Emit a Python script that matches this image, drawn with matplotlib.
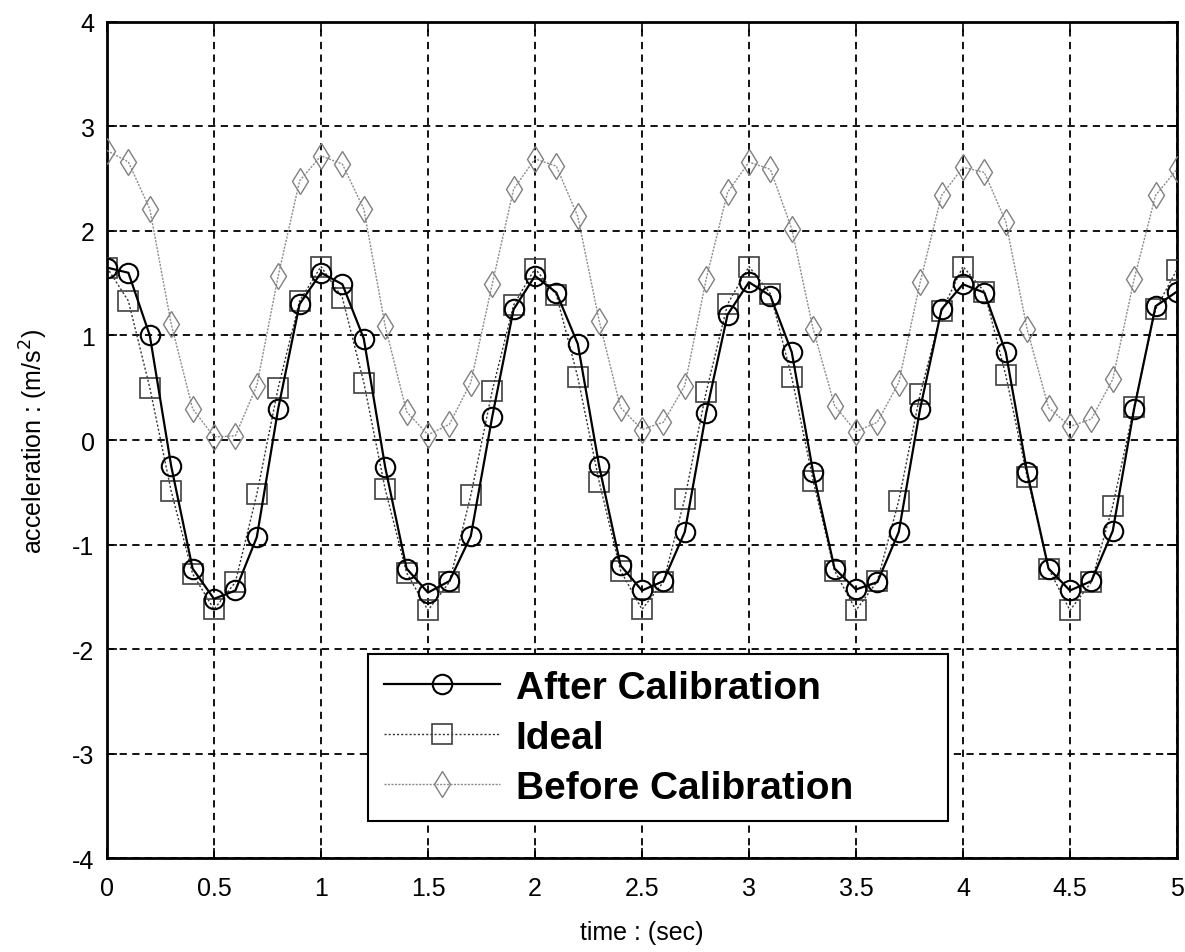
import matplotlib
matplotlib.use('Agg')
import numpy as np
import matplotlib.pyplot as plt

fs = 18  ## tick / label fontsize
narrow = ['Liberation Sans Narrow', 'Liberation Sans', 'DejaVu Sans']
plt.rcParams['axes.unicode_minus'] = False

# sample times (s), 0.1 s step
t = np.round(np.arange(51) * 0.1, 1)

after_cal = [1.65, 1.60, 1.00, -0.25, -1.23, -1.52, -1.44, -0.93, 0.30, 1.30,
             1.60, 1.49, 0.97, -0.26, -1.23, -1.46, -1.35, -0.92, 0.22, 1.25,
             1.57, 1.41, 0.92, -0.25, -1.20, -1.44, -1.35, -0.88, 0.26, 1.20,
             1.51, 1.38, 0.84, -0.31, -1.23, -1.43, -1.36, -0.88, 0.30, 1.25,
             1.49, 1.41, 0.84, -0.31, -1.23, -1.44, -1.35, -0.87, 0.30, 1.28, 1.42]

ideal = [1.65, 1.33, 0.50, -0.49, -1.28, -1.62, -1.36, -0.52, 0.50, 1.33,
         1.66, 1.36, 0.55, -0.47, -1.27, -1.63, -1.36, -0.53, 0.47, 1.29,
         1.64, 1.39, 0.60, -0.40, -1.25, -1.62, -1.36, -0.56, 0.46, 1.30,
         1.66, 1.40, 0.60, -0.39, -1.25, -1.63, -1.35, -0.58, 0.44, 1.23,
         1.66, 1.42, 0.62, -0.35, -1.23, -1.63, -1.36, -0.63, 0.32, 1.25, 1.63]

before_cal = [2.77, 2.66, 2.21, 1.11, 0.30, 0.03, 0.04, 0.52, 1.57, 2.48,
              2.72, 2.64, 2.21, 1.09, 0.27, 0.05, 0.15, 0.55, 1.49, 2.40,
              2.69, 2.62, 2.14, 1.14, 0.31, 0.10, 0.17, 0.52, 1.54, 2.37,
              2.66, 2.59, 2.02, 1.06, 0.33, 0.08, 0.17, 0.55, 1.51, 2.34,
              2.61, 2.56, 2.09, 1.06, 0.31, 0.13, 0.20, 0.58, 1.54, 2.34, 2.59]

xticks = [0, 0.5, 1, 1.5, 2, 2.5, 3, 3.5, 4, 4.5, 5]
xticklabels = ['0', '0.5', '1', '1.5', '2', '2.5', '3', '3.5', '4', '4.5', '5']
yticks = [-4, -3, -2, -1, 0, 1, 2, 3, 4]

fig = plt.figure(figsize=(11.85, 9.53), dpi=100)
ax = fig.add_axes([0.0903, 0.0986, 0.9029, 0.8773])

ax.plot(t, before_cal, color='0.55', linestyle=(0, (1.5, 1.0)), linewidth=1.0,
        marker='d', markersize=13, markerfacecolor='none',
        markeredgecolor='0.5', markeredgewidth=1.0, label='Before Calibration', zorder=3)
ax.plot(t, ideal, color='0.2', linestyle=(0, (1.5, 1.5)), linewidth=1.0,
        marker='s', markersize=14, markerfacecolor='none',
        markeredgecolor='0.25', markeredgewidth=1.2, label='Ideal', zorder=4)
ax.plot(t, after_cal, color='k', linestyle='-', linewidth=1.6,
        marker='o', markersize=14, markerfacecolor='none',
        markeredgecolor='k', markeredgewidth=1.5, label='After Calibration', zorder=5)

ax.set_xlim(0, 5)
ax.set_ylim(-4, 4)
ax.set_xticks(xticks)
ax.set_xticklabels(xticklabels)
ax.set_yticks(yticks)
ax.grid(True, color='k', linestyle=(0, (4, 3)), linewidth=1.3)
ax.set_axisbelow(True)
ax.tick_params(direction='in', length=7, width=1.2, top=True, right=True,
               labelsize=fs)
ax.tick_params(axis='x', pad=13)
ax.tick_params(axis='y', pad=9)
for lab in ax.get_xticklabels() + ax.get_yticklabels():
    lab.set_family(narrow)
for sp in ax.spines.values():
    sp.set_linewidth(2)

ax.set_xlabel('time : (sec)', fontsize=fs, family=narrow, labelpad=14)
ax.set_ylabel('acceleration : (m/s$^2$)', fontsize=fs, family=narrow, labelpad=16)

h, l = ax.get_legend_handles_labels()
order = [2, 1, 0]
leg = ax.legend([h[i] for i in order], [l[i] for i in order],
                loc='lower left', bbox_to_anchor=(0.244, 0.044, 0.542, 0.206),
                mode='expand',
                prop={'family': 'Liberation Sans', 'weight': 'bold', 'size': 28},
                handlelength=3.0, handletextpad=0.4, labelspacing=0.36,
                borderpad=0.4, borderaxespad=0, fancybox=False, framealpha=1)
leg.get_frame().set_edgecolor('k')
leg.get_frame().set_linewidth(1.5)

plt.savefig('out.png', dpi=100)
